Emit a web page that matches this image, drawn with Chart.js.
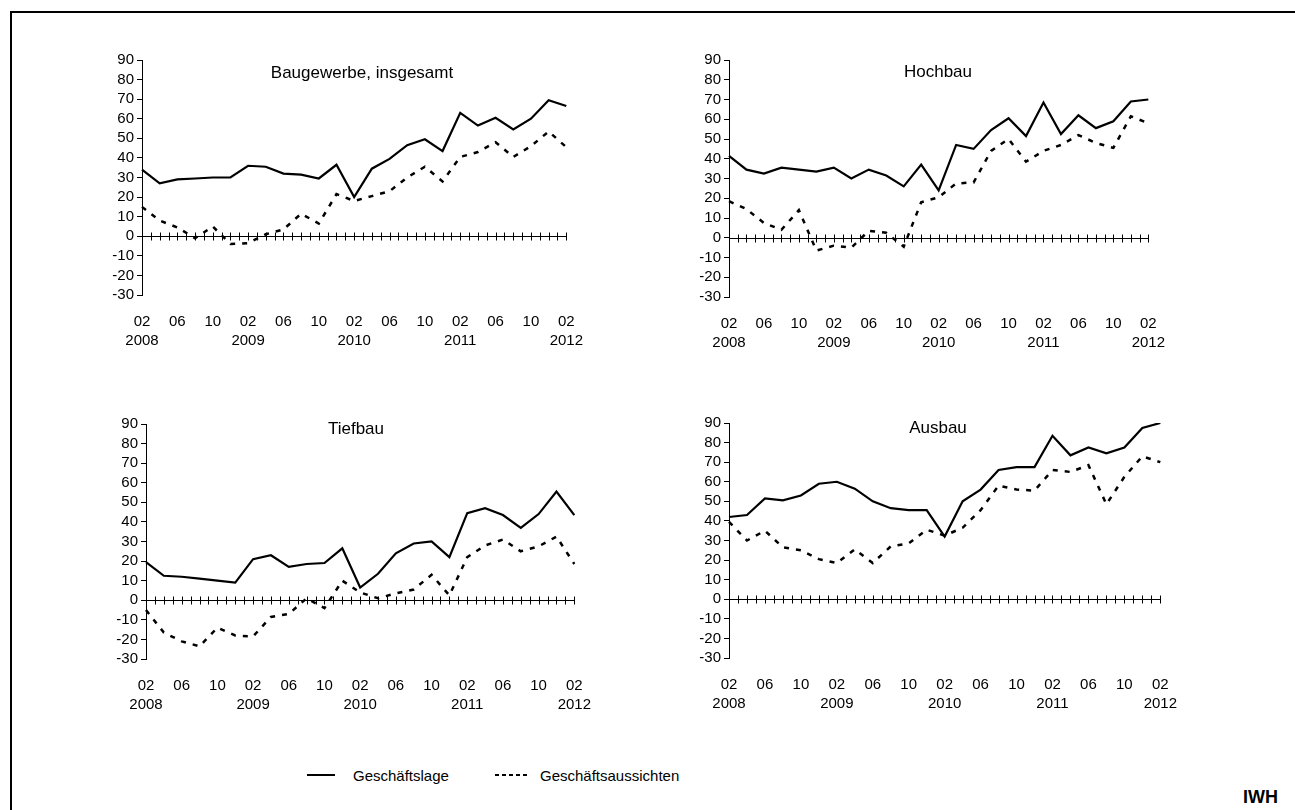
<!DOCTYPE html>
<html>
<head>
<meta charset="utf-8">
<script src="https://cdn.jsdelivr.net/npm/chart.js@4.4.1/dist/chart.umd.min.js"></script>
<style>
  body { margin: 0; background: #fff; width: 1295px; height: 810px; overflow: hidden; position: relative;
         font-family: "Liberation Sans", Arial, sans-serif; color: #000; }
  .frame { position: absolute; left: 10px; top: 11px; width: 1320px; height: 840px;
           border-left: 2px solid #000; border-top: 2px solid #000; }
  canvas { position: absolute; }
  .title { position: absolute; font-size: 17px; transform: translate(-50%, -50%); white-space: nowrap; }
  .legend-line { position: absolute; height: 2px; background: #000; }
  .legend-dash { position: absolute; height: 2px;
                 background: repeating-linear-gradient(to right, #000 0 4px, transparent 4px 7px); }
  .legend-text { position: absolute; font-size: 15px; transform: translateY(-50%); white-space: nowrap; }
  .iwh { position: absolute; font-weight: bold; font-size: 18px; transform: translateY(-50%); }
</style>
</head>
<body>
<div class="frame"></div>

<canvas id="c1"></canvas>
<canvas id="c2"></canvas>
<canvas id="c3"></canvas>
<canvas id="c4"></canvas>

<div class="title" style="left:362px; top:73px;">Baugewerbe, insgesamt</div>
<div class="title" style="left:938px; top:72px;">Hochbau</div>
<div class="title" style="left:356px; top:429px;">Tiefbau</div>
<div class="title" style="left:938px; top:428px;">Ausbau</div>

<div class="legend-line" style="left:307px; top:774px; width:28px;"></div>
<div class="legend-text" style="left:353px; top:775px;">Geschäftslage</div>
<div class="legend-dash" style="left:495px; top:774px; width:33px;"></div>
<div class="legend-text" style="left:540px; top:775px;">Geschäftsaussichten</div>
<div class="iwh" style="left:1243px; top:797px;">IWH</div>

<script>
// bimonthly survey periods
const periods = [
  "02/2008", "04/2008", "06/2008", "08/2008", "10/2008", "12/2008",
  "02/2009", "04/2009", "06/2009", "08/2009", "10/2009", "12/2009",
  "02/2010", "04/2010", "06/2010", "08/2010", "10/2010", "12/2010",
  "02/2011", "04/2011", "06/2011", "08/2011", "10/2011", "12/2011",
  "02/2012"
];
const labelMonths = ["02", "06", "10"];
const yTicks = { min: -30, max: 90, step: 10 };

// Baugewerbe, insgesamt
const bauLage = [34, 27, 29, 29.5, 30, 30, 36, 35.5, 32, 31.5, 29.5, 36.5, 20, 34.5, 39.5, 46.5, 49.5, 43.5, 63, 56.5, 60.5, 54.5, 60, 69.5, 66.5];
const bauAussichten = [15, 8, 4.5, -1, 5, -4, -3.5, 1, 3.5, 11.5, 6.5, 21.5, 18, 20.5, 23, 30, 35.5, 28, 40.5, 43, 48, 40.5, 46, 53.5, 45.5];

// Hochbau
const hochLage = [41.5, 34.5, 32.5, 35.5, 34.5, 33.5, 35.5, 30, 34.5, 31.5, 26, 37, 24, 47, 45, 54.5, 60.5, 51.5, 68.5, 52.5, 62, 55.5, 59, 69, 70];
const hochAussichten = [18.5, 14.5, 7.5, 4, 14, -6.5, -4, -5, 3.5, 2.5, -4.5, 18, 20.5, 27.5, 28, 44, 50, 38.5, 44, 47, 52, 48, 45.5, 61.5, 58];

// Tiefbau
const tiefLage = [19.5, 12.5, 12, 11, 10, 9, 21, 23, 17, 18.5, 19, 26.5, 6.5, 13.5, 24, 29, 30, 22, 44.5, 47, 43.5, 37, 44, 55.5, 43.5];
const tiefAussichten = [-5, -16.5, -21, -23.5, -14, -18, -18.5, -8.5, -7, 1, -4, 10, 4, 1, 3.5, 5.5, 13, 2.5, 22, 28, 31, 25, 27.5, 32.5, 18.5];

// Ausbau
const ausLage = [42, 43, 51.5, 50.5, 53, 59, 60, 56.5, 50, 46.5, 45.5, 45.5, 32, 50, 56, 66, 67.5, 67.5, 83.5, 73.5, 77.5, 74.5, 77.5, 87.5, 90];
const ausAussichten = [39.5, 30, 35, 26.5, 25, 20.5, 18.5, 25.5, 18.5, 27, 28.5, 35.5, 32.5, 36.5, 45.5, 58, 56, 55.5, 66, 65, 68.5, 48.5, 62.5, 73, 70];

Chart.defaults.font.family = '"Liberation Sans", Arial, sans-serif';
Chart.defaults.font.size = 15;
Chart.defaults.color = "#000";

// horizontal axis at zero with monthly cross ticks
const zeroAxis = {
  id: "zeroAxis",
  beforeDatasetsDraw(chart) {
    const x = chart.scales.x, y = chart.scales.y;
    const ctx = chart.ctx;
    const y0 = Math.round(y.getPixelForValue(0)) + 0.5;
    const step = (x.getPixelForValue(1) - x.getPixelForValue(0)) / 2;
    const x0 = x.getPixelForValue(0);
    ctx.save();
    ctx.strokeStyle = "#000";
    ctx.lineWidth = 1;
    ctx.beginPath();
    ctx.moveTo(x.left, y0);
    ctx.lineTo(x.right, y0);
    for (let i = 1; i <= (periods.length - 1) * 2; i++) {
      const px = Math.round(x0 + i * step) + 0.5;
      ctx.moveTo(px, y0 - 4);
      ctx.lineTo(px, y0 + 4);
    }
    ctx.stroke();
    ctx.restore();
  }
};

function makePanel(id, lage, aussichten, g) {
  const canvas = document.getElementById(id);
  const padL = 32, padT = 20, padR = 28, height = 320;
  const left = g.axisX - 82;
  canvas.width = g.right + padR - left;
  canvas.height = height;
  canvas.style.left = left + "px";
  canvas.style.top = (g.top - padT) + "px";
  const xHeight = height - padT - (g.bottom - g.top);

  new Chart(canvas, {
    type: "line",
    data: {
      labels: periods,
      datasets: [
        { label: "Geschäftslage", data: lage, borderColor: "#000", borderWidth: 2.2,
          pointRadius: 0, tension: 0 },
        { label: "Geschäftsaussichten", data: aussichten, borderColor: "#000", borderWidth: 2.5,
          borderDash: [5, 7], pointRadius: 0, tension: 0 }
      ]
    },
    options: {
      responsive: false,
      animation: false,
      devicePixelRatio: 1,
      layout: { padding: { left: padL, top: padT, right: padR, bottom: 0 } },
      plugins: { legend: { display: false }, tooltip: { enabled: false } },
      scales: {
        x: {
          offset: false,
          grid: { display: false, drawTicks: false },
          border: { display: false },
          afterFit: (s) => { s.height = xHeight; },
          ticks: {
            autoSkip: false,
            maxRotation: 0,
            padding: 17,
            font: { size: 15, lineHeight: 1.3 },
            callback: function (value) {
              const [m, yr] = periods[value].split("/");
              if (!labelMonths.includes(m)) return "";
              return m === "02" ? [m, yr] : m;
            }
          }
        },
        y: {
          min: yTicks.min,
          max: yTicks.max,
          grid: { drawOnChartArea: false, drawTicks: true, tickLength: 5, color: "#000" },
          border: { display: true, color: "#000", width: 1 },
          afterFit: (s) => { s.width = 50; },
          ticks: { stepSize: yTicks.step, autoSkip: false, padding: 3 }
        }
      }
    },
    plugins: [zeroAxis]
  });
}

makePanel("c1", bauLage, bauAussichten, { axisX: 142, right: 572, top: 60, bottom: 295 });
makePanel("c2", hochLage, hochAussichten, { axisX: 729, right: 1154, top: 60, bottom: 297 });
makePanel("c3", tiefLage, tiefAussichten, { axisX: 146, right: 580, top: 424, bottom: 659 });
makePanel("c4", ausLage, ausAussichten, { axisX: 729, right: 1166, top: 423, bottom: 658 });
</script>
</body>
</html>
